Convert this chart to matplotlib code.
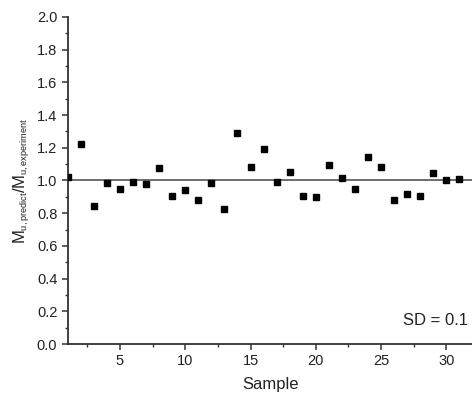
import numpy as np
import matplotlib.pyplot as plt
import matplotlib._mathtext as mathtext_internals
from matplotlib.ticker import MultipleLocator

plt.rcParams["font.family"] = ["Liberation Sans", "DejaVu Sans"]
plt.rcParams["mathtext.fontset"] = "custom"
plt.rcParams["mathtext.rm"] = "Liberation Sans"
plt.rcParams["mathtext.it"] = "Liberation Sans"
plt.rcParams["mathtext.default"] = "regular"
# the original axis title uses much smaller subscripts than mathtext's default
mathtext_internals.SHRINK_FACTOR = 0.55

# ratio of predicted to measured moment for each sample
sample = np.arange(1, 32)
ratio = [1.02, 1.223, 0.846, 0.985, 0.95, 0.989, 0.979, 1.076, 0.903, 0.94,
         0.878, 0.985, 0.827, 1.288, 1.085, 1.193, 0.993, 1.054, 0.907, 0.899,
         1.093, 1.013, 0.95, 1.146, 1.083, 0.878, 0.915, 0.907, 1.044, 1.003,
         1.007]
sd_label = "SD = 0.1"

fig = plt.figure(figsize=(4.72, 3.97), dpi=100)
ax = fig.add_axes([0.1436, 0.1335, 0.8572, 0.8237])

ax.axhline(1.0, color="#555555", linewidth=1.2, zorder=1)
ax.plot(sample, ratio, "s", color="black", markersize=5, zorder=3)

ax.set_xlim(1, 32)
ax.set_ylim(0, 2.0)
ax.xaxis.set_major_locator(MultipleLocator(5))
ax.xaxis.set_minor_locator(MultipleLocator(2.5))
ax.yaxis.set_major_locator(MultipleLocator(0.2))
ax.yaxis.set_minor_locator(MultipleLocator(0.1))
ax.yaxis.set_major_formatter(plt.FormatStrFormatter("%.1f"))

for side in ("top", "right"):
    ax.spines[side].set_visible(False)
for side in ("left", "bottom"):
    ax.spines[side].set_color("#333333")
    ax.spines[side].set_linewidth(1.3)

ax.tick_params(which="major", direction="out", length=4.5, width=1.1,
               color="#333333", labelsize=10.5, labelcolor="#222222", pad=3)
ax.tick_params(which="minor", direction="out", length=2.5, width=1.0,
               color="#333333")

ax.set_xlabel("Sample", fontsize=12, labelpad=6, color="#222222")
ax.set_ylabel(r"$M_{u,predict}/M_{u,experiment}$", fontsize=12,
              labelpad=3, color="#222222")

ax.text(0.989, 0.058, sd_label, transform=ax.transAxes, ha="right",
        va="baseline", fontsize=12, color="#222222")

fig.savefig("out.png", dpi=100)
